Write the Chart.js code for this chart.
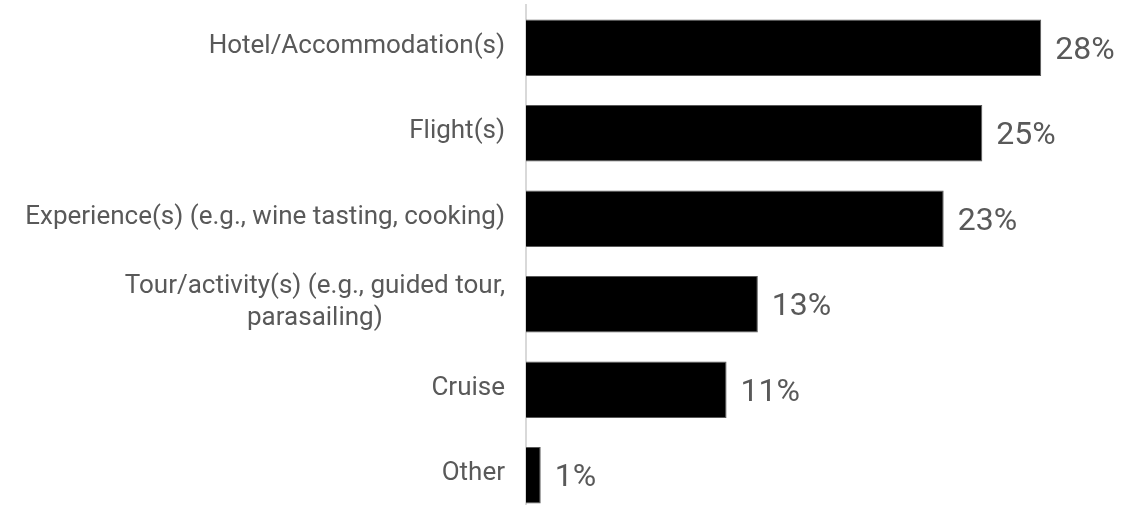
<!DOCTYPE html>
<html>
<head>
<meta charset="utf-8">
<script src="https://cdn.jsdelivr.net/npm/chart.js@4.4.1/dist/chart.umd.min.js"></script>
<style>
  html, body { margin: 0; padding: 0; background: #ffffff; overflow: hidden; }
  #wrap { position: relative; width: 1141px; height: 518px; }
</style>
</head>
<body>
<div id="wrap"><canvas id="c"></canvas></div>
<script>
const categories = [
  "Hotel/Accommodation(s)",
  "Flight(s)",
  "Experience(s) (e.g., wine tasting, cooking)",
  ["Tour/activity(s) (e.g., guided tour,", "parasailing)"],
  "Cruise",
  "Other"
];
const values = [28, 24.8, 22.7, 12.6, 10.9, 0.8];
const valueLabels = ["28%", "25%", "23%", "13%", "11%", "1%"];

const textColor = "#595959";
const fontFamily = "Roboto, 'Liberation Sans', Arial, sans-serif";

const labelPlugin = {
  id: "customLabels",
  afterDatasetsDraw(chart) {
    const ctx = chart.ctx;
    const yScale = chart.scales.y;
    const meta = chart.getDatasetMeta(0);
    ctx.save();
    ctx.fillStyle = textColor;
    // category labels
    ctx.font = "26px " + fontFamily;
    ctx.textBaseline = "alphabetic";
    const rightX = yScale.right - 21;
    categories.forEach((lab, i) => {
      const cy = yScale.getPixelForTick(i);
      const lines = Array.isArray(lab) ? lab : [lab];
      const lh = 32;
      const widths = lines.map(l => ctx.measureText(l).width);
      const maxW = Math.max(...widths);
      const centerX = rightX - maxW / 2;
      lines.forEach((l, k) => {
        const by = cy + 5 + (k - (lines.length - 1) / 2) * lh;
        if (lines.length > 1) {
          ctx.textAlign = "center";
          ctx.fillText(l, centerX, by);
        } else {
          ctx.textAlign = "right";
          ctx.fillText(l, rightX, by);
        }
      });
    });
    // value labels
    ctx.font = "32px " + fontFamily;
    ctx.textAlign = "left";
    meta.data.forEach((bar, i) => {
      ctx.fillText(valueLabels[i], bar.x + 14, bar.y + 11);
    });
    ctx.restore();
  }
};

new Chart(document.getElementById("c"), {
  type: "bar",
  data: {
    labels: categories,
    datasets: [{
      data: values,
      backgroundColor: "#000000",
      borderColor: "#595959",
      borderWidth: 1,
      barPercentage: 0.66,
      categoryPercentage: 1.0
    }]
  },
  options: {
    indexAxis: "y",
    responsive: true,
    maintainAspectRatio: false,
    animation: false,
    layout: { padding: { left: 0, right: 63, top: 5, bottom: 0 } },
    plugins: {
      legend: { display: false },
      tooltip: { enabled: false }
    },
    scales: {
      x: {
        display: false,
        min: 0,
        max: 30
      },
      y: {
        grid: { display: false },
        border: { display: true, color: "#d9d9d9", width: 2 },
        ticks: { display: false },
        afterFit(scale) { scale.width = 526; }
      }
    }
  },
  plugins: [labelPlugin]
});
</script>
</body>
</html>
